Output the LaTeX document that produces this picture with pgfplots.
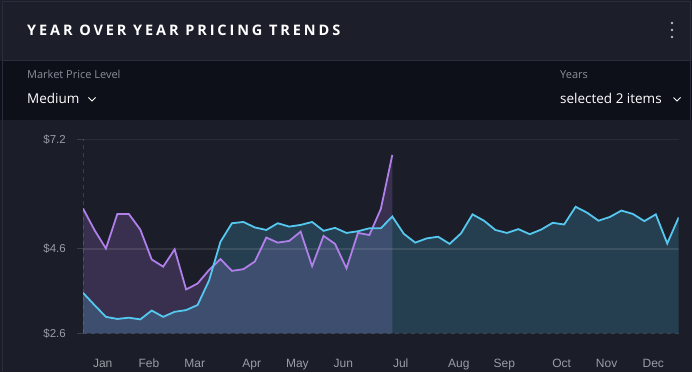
\documentclass[border=0pt]{standalone}
\usepackage{fontspec}
\setmainfont{Open Sans}
\newfontfamily\axfont{Liberation Sans}
\usepackage{pgfplots}
\pgfplotsset{compat=1.18}
\definecolor{bg}{HTML}{1B1D28}
\definecolor{hdr}{HTML}{1C1E2A}
\definecolor{band}{HTML}{0D1019}
\definecolor{brd}{HTML}{2A2D3C}
\definecolor{cy}{HTML}{55C8F0}
\definecolor{pu}{HTML}{B07FEA}
\definecolor{lbl}{HTML}{9A9CA6}
\definecolor{sub}{HTML}{8B8E9A}
\definecolor{axl}{HTML}{3A3D4B}
\begin{document}
\begin{tikzpicture}[x=1pt,y=1pt]
\clip (0,0) rectangle (692,372);
\fill[bg] (0,0) rectangle (692,372);
\fill[band] (0,252) rectangle (692,311);
\fill[hdr] (0,311) rectangle (692,372);
\draw[brd, line width=1pt] (2,0) -- (2,370) -- (690,370) -- (690,252);
\draw[brd, line width=1pt] (2,311) -- (690,311);
\node[anchor=base west, text=white, inner sep=0pt] at (27,336)
  {\fontsize{14.5}{16}\selectfont\bfseries\addfontfeatures{LetterSpace=20}YEAR OVER YEAR PRICING TRENDS};
\fill[white!70!bg] (672,349) circle (1.4) (672,342) circle (1.4) (672,335) circle (1.4);
\node[anchor=base west, text=sub, inner sep=0pt] at (27,293) {\fontsize{11}{13}\selectfont Market Price Level};
\node[anchor=base west, text=white, inner sep=0pt] at (27,268.5) {\fontsize{13.5}{15}\selectfont Medium};
\draw[white, line width=0.8pt] (88.5,274.5) -- (92,271) -- (95.5,274.5);
\node[anchor=base west, text=sub, inner sep=0pt] at (560,293) {\fontsize{11}{13}\selectfont Years};
\node[anchor=base west, text=white, inner sep=0pt] at (560,268.5) {\fontsize{13.5}{15}\selectfont selected 2 items};
\draw[white, line width=0.8pt] (673.5,274.5) -- (677,271) -- (680.5,274.5);
\begin{axis}[
  at={(83pt,38.7pt)}, anchor=south west, scale only axis,
  width=595.7pt, height=194pt,
  xmin=1, xmax=53, ymin=2.6, ymax=7.2,
  axis x line*=bottom, axis y line*=left,
  x axis line style={draw=axl, line width=1pt, dash pattern=on 4pt off 4pt},
  y axis line style={draw=axl, line width=1pt, dash pattern=on 4pt off 4pt},
  ytick={2.6,4.6,7.2}, yticklabels={\$2.6,\$4.6,\$7.2},
  xtick={2.72,6.76,10.75,15.73,19.71,23.72,28.73,33.80,37.78,42.79,46.71,50.78},
  xticklabels={Jan,Feb,Mar,Apr,May,Jun,Jul,Aug,Sep,Oct,Nov,Dec},
  tick align=outside, major tick length=6pt,
  major y tick style={draw=axl, line width=1pt},
  major x tick style={draw=none},
  yticklabel style={font=\axfont\fontsize{11.5}{12}\selectfont, text=lbl, anchor=east, inner sep=0pt, xshift=-11pt},
  xticklabel style={font=\axfont\fontsize{12}{13}\selectfont, text=lbl, anchor=base, inner sep=0pt, yshift=-28pt},
]
\addplot[draw=none, fill=pu, fill opacity=0.2] coordinates {
(1,5.56)(2,5.05)(3,4.61)(4,5.43)(5,5.43)(6,5.06)(7,4.35)(8,4.18)(9,4.59)(10,3.64)
(11,3.78)(12,4.10)(13,4.36)(14,4.08)(15,4.12)(16,4.30)(17,4.87)(18,4.75)(19,4.79)(20,5.01)
(21,4.19)(22,4.91)(23,4.72)(24,4.14)(25,4.98)(26,4.93)(27,5.55)(28,6.83)} \closedcycle;
\addplot[draw=none, fill=cy, fill opacity=0.2] coordinates {
(1,3.56)(2,3.27)(3,2.99)(4,2.94)(5,2.97)(6,2.93)(7,3.14)(8,2.99)(9,3.11)(10,3.15)
(11,3.27)(12,3.85)(13,4.77)(14,5.21)(15,5.24)(16,5.11)(17,5.05)(18,5.21)(19,5.13)(20,5.17)
(21,5.24)(22,5.03)(23,5.10)(24,4.98)(25,5.02)(26,5.09)(27,5.09)(28,5.37)(29,4.96)(30,4.75)
(31,4.85)(32,4.89)(33,4.72)(34,4.97)(35,5.42)(36,5.27)(37,5.05)(38,4.98)(39,5.07)(40,4.95)
(41,5.06)(42,5.22)(43,5.18)(44,5.60)(45,5.46)(46,5.27)(47,5.36)(48,5.51)(49,5.43)(50,5.26)
(51,5.42)(52,4.73)(53,5.35)} \closedcycle;
\draw[white, opacity=0.1, line width=1.5pt] (axis cs:1,4.6) -- (axis cs:53,4.6);
\draw[white, opacity=0.07, line width=1.5pt] (axis cs:1,7.2) -- (axis cs:53,7.2);
\addplot[pu, line width=1.8pt] coordinates {
(1,5.56)(2,5.05)(3,4.61)(4,5.43)(5,5.43)(6,5.06)(7,4.35)(8,4.18)(9,4.59)(10,3.64)
(11,3.78)(12,4.10)(13,4.36)(14,4.08)(15,4.12)(16,4.30)(17,4.87)(18,4.75)(19,4.79)(20,5.01)
(21,4.19)(22,4.91)(23,4.72)(24,4.14)(25,4.98)(26,4.93)(27,5.55)(28,6.83)};
\addplot[cy, line width=1.8pt] coordinates {
(1,3.56)(2,3.27)(3,2.99)(4,2.94)(5,2.97)(6,2.93)(7,3.14)(8,2.99)(9,3.11)(10,3.15)
(11,3.27)(12,3.85)(13,4.77)(14,5.21)(15,5.24)(16,5.11)(17,5.05)(18,5.21)(19,5.13)(20,5.17)
(21,5.24)(22,5.03)(23,5.10)(24,4.98)(25,5.02)(26,5.09)(27,5.09)(28,5.37)(29,4.96)(30,4.75)
(31,4.85)(32,4.89)(33,4.72)(34,4.97)(35,5.42)(36,5.27)(37,5.05)(38,4.98)(39,5.07)(40,4.95)
(41,5.06)(42,5.22)(43,5.18)(44,5.60)(45,5.46)(46,5.27)(47,5.36)(48,5.51)(49,5.43)(50,5.26)
(51,5.42)(52,4.73)(53,5.35)};
\end{axis}
\end{tikzpicture}
\end{document}
